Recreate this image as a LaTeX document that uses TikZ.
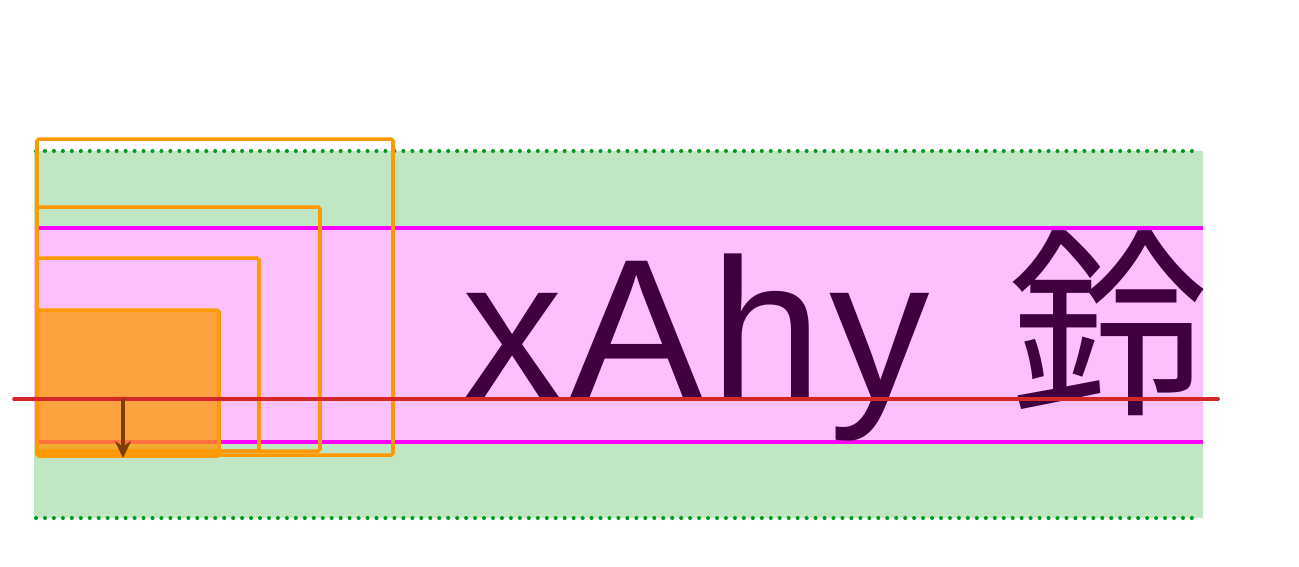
\documentclass[tikz,border=0pt]{standalone}
\usepackage{fontspec}
\setmainfont{Liberation Sans}
\newfontfamily\cjkfont{Noto Sans CJK JP}
\usetikzlibrary{arrows.meta}
\definecolor{bandgreen}{HTML}{C0E6C4}
\definecolor{dotgreen}{HTML}{009A1A}
\definecolor{bandpink}{HTML}{FCC0FC}
\definecolor{linemag}{HTML}{FF00FF}
\definecolor{basered}{HTML}{D62728}
\definecolor{boxorange}{HTML}{FF9900}
\definecolor{glyphpurple}{HTML}{400040}
\definecolor{arrowbrown}{HTML}{7F3F00}
\begin{document}
\begin{tikzpicture}[x=0.02cm, y=-0.02cm,
  dotline/.style={dotgreen, line width=2.3pt, line cap=round, dash pattern=on 0pt off 5.1pt},
  magline/.style={linemag, line width=2.2pt},
  glyphbox/.style={draw=boxorange, line width=2pt, rounded corners=1pt},
]
  \useasboundingbox (0,0) rectangle (1299,566);

  % line box and em box
  \fill[bandgreen] (34,151) rectangle (1203,518);
  \fill[bandpink]  (34,228) rectangle (1203,442);
  \draw[magline] (38,228) -- (1203,228);
  \draw[magline] (38,442) -- (1203,442);
  \draw[dotline] (36,151) -- (1200,151);
  \draw[dotline] (36,518) -- (1200,518);

  % sample text
  \node[anchor=base west, inner sep=0, text=glyphpurple,
        font=\addfontfeature{LetterSpace=3.5}\fontsize{114.4}{137}\selectfont] (sample) at (462,399)
        {xAhy\kern0.3cm\ {\cjkfont 鈴}};

  % nested boxes
  \draw[glyphbox] (37,139) rectangle (393,455);
  \draw[glyphbox] (37,207) rectangle (320,451);
  \draw[glyphbox] (37,258) rectangle (259,451);
  \draw[glyphbox, fill=boxorange, fill opacity=0.75] (37,310) rectangle (219,456);

  % baseline + descent arrow
  \coordinate (basel) at (14,399);
  \coordinate (baser) at (1218,399);
  \coordinate (arrtop) at (123,399);
  \coordinate (arrbot) at (123,458);
  \draw[basered, line width=2.1pt, line cap=round] (basel) -- (baser);
  \draw[-{Stealth[length=3.4mm, width=3.2mm]}, arrowbrown, line width=2.1pt] (arrtop) -- (arrbot);
\end{tikzpicture}
\end{document}
